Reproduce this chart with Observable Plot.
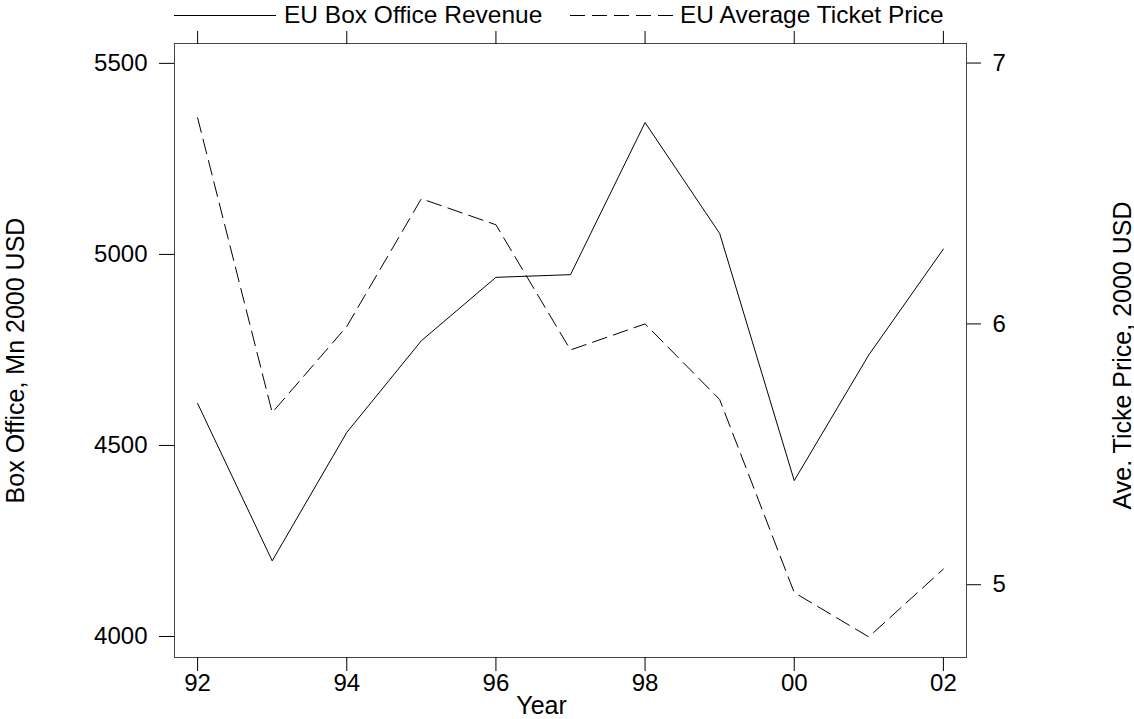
<!DOCTYPE html>
<html>
<head>
<meta charset="utf-8">
<script src="https://cdn.jsdelivr.net/npm/d3@7"></script>
<script src="https://cdn.jsdelivr.net/npm/@observablehq/plot@0.6"></script>
<style>
  html, body { margin: 0; padding: 0; background: white; }
  body { width: 1134px; font-family: "Liberation Sans", Arial, sans-serif; }
  #legend { display: block; }
  #legend text { font-family: "Liberation Sans", Arial, sans-serif; font-size: 24.5px; fill: black; }
</style>
</head>
<body>
<svg id="legend" width="1134" height="28"></svg>
<div id="chart"></div>
<script>
// ---- data ----
const years = [1992, 1993, 1994, 1995, 1996, 1997, 1998, 1999, 2000, 2001, 2002];
const boxOffice = [4610, 4198, 4534, 4774, 4940, 4947, 5345, 5055, 4408, 4737, 5014];
const ticketPrice = [6.79, 5.66, 5.99, 6.48, 6.38, 5.90, 6.00, 5.71, 4.97, 4.80, 5.06];

const xTicks = [1992, 1994, 1996, 1998, 2000, 2002];
const xTickLabels = ["92", "94", "96", "98", "00", "02"];
const leftTicks = [4000, 4500, 5000, 5500];
const rightTicks = [5, 6, 7];

const seriesNames = ["EU Box Office Revenue", "EU Average Ticket Price"];
const xTitle = "Year";
const yLeftTitle = "Box Office, Mn 2000 USD";
const yRightTitle = "Ave. Ticke Price, 2000 USD";

// ---- scales ----
const xDomain = [1991.69, 2002.31];
const boxDomain = [3945, 5552];
const priceDomain = [4.721, 7.075];
const toBox = d3.scaleLinear(priceDomain, boxDomain);

const rows = years.map((y, i) => ({year: y, box: boxOffice[i], price: ticketPrice[i]}));

// ---- legend ----
const legend = d3.select("#legend");
const legendItems = [
  {name: seriesNames[0], x1: 174, x2: 276, tx: 284, dash: null},
  {name: seriesNames[1], x1: 570, x2: 673, tx: 680, dash: "15,7"}
];
for (const it of legendItems) {
  legend.append("line").attr("x1", it.x1).attr("x2", it.x2).attr("y1", 15.5).attr("y2", 15.5)
    .attr("stroke", "black").attr("stroke-width", 1).attr("stroke-dasharray", it.dash);
  legend.append("text").attr("x", it.tx).attr("y", 23).text(it.name);
}

// ---- chart ----
const chart = Plot.plot({
  width: 1134,
  height: 691,
  marginTop: 15,
  marginBottom: 62,
  marginLeft: 174,
  marginRight: 168,
  style: {fontFamily: "'Liberation Sans', Arial, sans-serif", fontSize: "24px", color: "black", background: "white", overflow: "visible"},
  x: {domain: xDomain},
  y: {domain: boxDomain},
  marks: [
    Plot.frame({stroke: "#444"}),
    Plot.axisX({anchor: "bottom", ticks: xTicks, tickFormat: d => xTickLabels[xTicks.indexOf(d)], tickSize: 14, tickPadding: 2, fontSize: 24, label: null}),
    Plot.axisX({anchor: "top", ticks: xTicks, tickFormat: () => "", tickSize: 13, label: null}),
    Plot.axisY({anchor: "left", ticks: leftTicks, tickFormat: d => String(d), tickSize: 15, tickPadding: 12, fontSize: 24, label: null}),
    Plot.axisY({anchor: "right", ticks: rightTicks.map(toBox), tickFormat: d => String(Math.round(toBox.invert(d))), tickSize: 14, tickPadding: 12, fontSize: 24, label: null}),
    Plot.lineY(rows, {x: "year", y: "box", stroke: "black", strokeWidth: 1}),
    Plot.lineY(rows, {x: "year", y: d => toBox(d.price), stroke: "black", strokeWidth: 1, strokeDasharray: "15,7"}),
    Plot.text([xTitle], {frameAnchor: "bottom", dx: -29, dy: 56, lineAnchor: "bottom", textAnchor: "middle", fontSize: 25}),
    Plot.text([yLeftTitle], {frameAnchor: "left", rotate: -90, dx: -159, dy: 10, lineAnchor: "middle", textAnchor: "middle", fontSize: 25}),
    Plot.text([yRightTitle], {frameAnchor: "right", rotate: -90, dx: 156, dy: 5, lineAnchor: "middle", textAnchor: "middle", fontSize: 25})
  ]
});
document.getElementById("chart").appendChild(chart);
</script>
</body>
</html>
